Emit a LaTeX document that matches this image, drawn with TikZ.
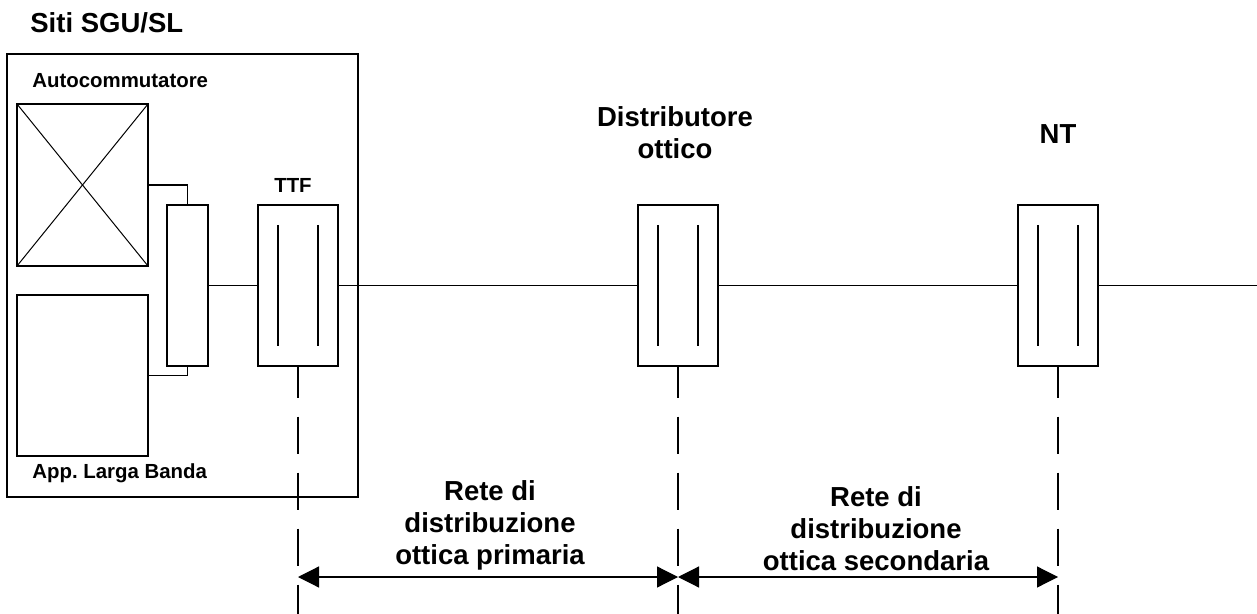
\documentclass[tikz,border=0pt]{standalone}
\usepackage{fontspec}
\setmainfont{Liberation Sans}
\usetikzlibrary{arrows.meta,positioning}
\tikzstyle{wire} = [
    line width=0.6pt,
    draw=black
]
\tikzstyle{guide} = [
    line width=0.6pt,
    dash pattern=on 18.5pt off 9.5pt,
    dash phase=3pt
]
\tikzstyle{dimline} = [
    line width=0.6pt,
    {Triangle[length=10.5pt,width=10.5pt]}-{Triangle[length=10.5pt,width=10.5pt]}
]
\tikzstyle{sitebox} = [
    rectangle,
    draw,
    line width=0.6pt,
    inner sep=0pt,
    minimum width=175.5pt,
    minimum height=221.5pt
]
\tikzstyle{xbox} = [
    rectangle,
    draw,
    line width=0.6pt,
    inner sep=0pt,
    minimum width=65.5pt,
    minimum height=81pt,
    path picture={
        \draw[line width=0.5pt] (path picture bounding box.north west) -- (path picture bounding box.south east);
        \draw[line width=0.5pt] (path picture bounding box.south west) -- (path picture bounding box.north east);
    }
]
\tikzstyle{plainbox} = [
    rectangle,
    draw,
    line width=0.6pt,
    inner sep=0pt,
    minimum width=65.5pt,
    minimum height=80.5pt
]
\tikzstyle{muxbox} = [
    rectangle,
    draw,
    line width=0.6pt,
    inner sep=0pt,
    minimum width=20.5pt,
    minimum height=80.5pt
]
\tikzstyle{termbox} = [
    rectangle,
    draw,
    line width=0.6pt,
    inner sep=0pt,
    minimum width=40pt,
    minimum height=80.5pt,
    path picture={
        \draw[line width=0.6pt] ([xshift=10pt,yshift=-10pt]path picture bounding box.north west) -- ([xshift=10pt,yshift=10pt]path picture bounding box.south west);
        \draw[line width=0.6pt] ([xshift=-10pt,yshift=-10pt]path picture bounding box.north east) -- ([xshift=-10pt,yshift=10pt]path picture bounding box.south east);
    }
]
\tikzstyle{biglabel} = [
    font=\fontsize{13.75}{16}\selectfont\bfseries,
    align=center,
    inner sep=0pt
]
\tikzstyle{smalllabel} = [
    font=\fontsize{10.2}{12}\selectfont\bfseries,
    inner sep=0pt
]

\begin{document}
\begin{tikzpicture}[x=0.5pt,y=-0.5pt]
    \useasboundingbox (0,0) rectangle (1257,614);

    % site with exchange and broadband equipment
    \node[sitebox] (site) at (182.5,275.5) {};
    \node[xbox] (switch) at (82.5,185) {};
    \node[plainbox] (wideband) at (82.5,375.5) {};
    \node[muxbox] (mux) at (187.5,285.5) {};

    % termination blocks
    \node[termbox] (ttf) at (298,285.5) {};
    \node[termbox] (dist) at (678,285.5) {};
    \node[termbox] (nt) at (1058,285.5) {};

    % labels
    \node[biglabel, anchor=west] (title) at (30,23) {Siti SGU/SL};
    \node[smalllabel, anchor=west] (switchlbl) at (32,81) {Autocommutatore};
    \node[smalllabel, anchor=west] (widelbl) at (32,473) {App.\ Larga Banda};
    \node[smalllabel] (ttflbl) at (293,185) {TTF};
    \node[biglabel] (distlbl) at (675,133) {Distributore\\ottico};
    \node[biglabel] (ntlbl) at (1058,134) {NT};
    \node[biglabel] (primlbl) at (490,525) {Rete di\\distribuzione\\ottica primaria};
    \node[biglabel] (seclbl) at (876,529) {Rete di\\distribuzione\\ottica secondaria};

    % fibre path
    \coordinate (out) at (1257,285.5);
    \draw[wire] (switch.east) -| (mux.north);
    \draw[wire] (wideband.east) -| (mux.south);
    \draw[wire] (mux.east) -- (ttf.west);
    \draw[wire] (ttf.east) -- (dist.west);
    \draw[wire] (dist.east) -- (nt.west);
    \draw[wire] (nt.east) -- (out);

    % guide lines and spans
    \coordinate (floor) at (0,614);
    \coordinate (span) at (0,577);
    \foreach \n in {ttf,dist,nt}
        \draw[guide] (\n.south) -- (\n.south |- floor);
    \draw[dimline] (ttf.south |- span) -- (dist.south |- span);
    \draw[dimline] (dist.south |- span) -- (nt.south |- span);
\end{tikzpicture}
\end{document}
